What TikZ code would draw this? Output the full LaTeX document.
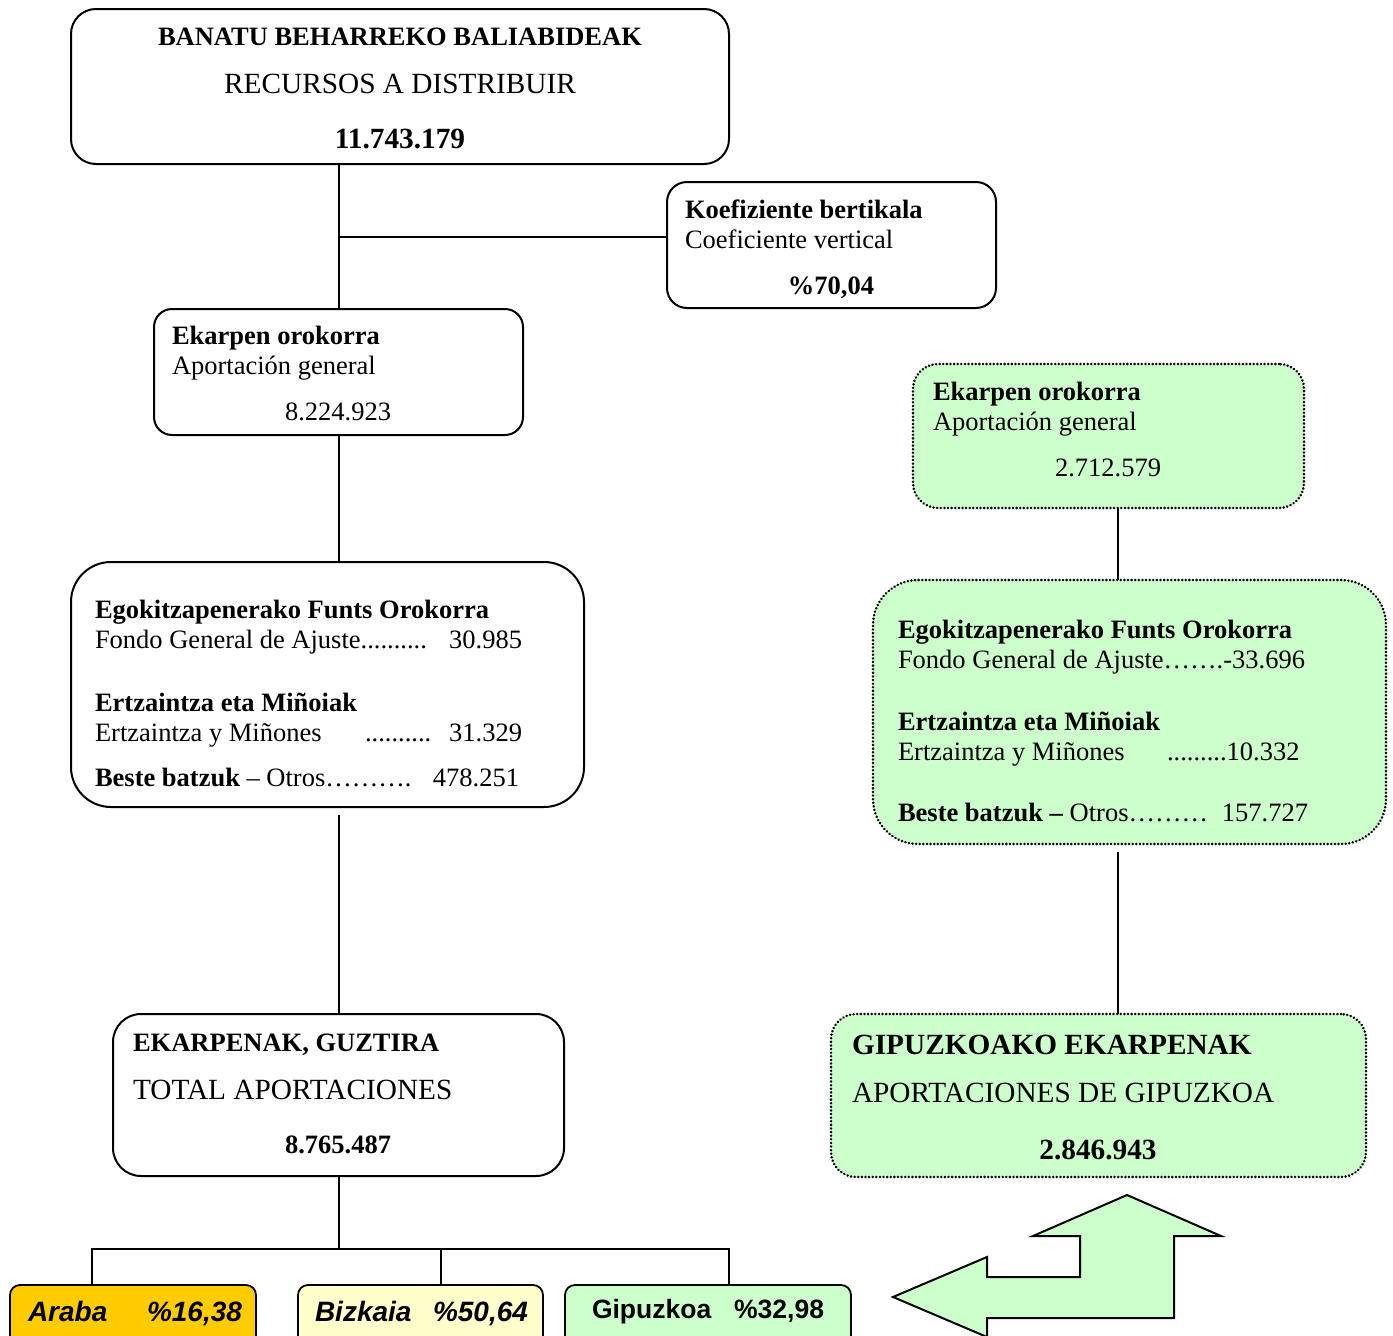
\documentclass[tikz,border=0pt]{standalone}
\usepackage{fontspec}
\setmainfont{Liberation Serif}
\newfontfamily\arialf{Liberation Sans}
\newcommand\fsm{\fontsize{26.5pt}{30pt}\selectfont}
\newcommand\flg{\fontsize{29.3pt}{33pt}\selectfont}
\newcommand\fbt{\fontsize{28pt}{32pt}\selectfont}
\definecolor{lgreen}{HTML}{CCFFCC}
\definecolor{gold}{HTML}{FFCC00}
\definecolor{lyellow}{HTML}{FFFFCC}
\begin{document}
\begin{tikzpicture}[x=1pt,y=-1pt,
  box/.style={draw=black,line width=2pt,inner sep=0pt,outer sep=0pt,rectangle},
  gbox/.style={box,fill=lgreen,line width=2.8pt,dash pattern=on 0.01pt off 3.6pt,line cap=round},
  lbox/.style={box,rounded corners=10pt,line width=1.8pt},
  conn/.style={line width=2pt},
  tx/.style={anchor=base west,inner sep=0pt,outer sep=0pt},
  tc/.style={anchor=base,inner sep=0pt,outer sep=0pt},
  tr/.style={anchor=base east,inner sep=0pt,outer sep=0pt}]
\useasboundingbox (0,0) rectangle (1393,1336);
\clip (0,0) rectangle (1393,1336);
% boxes
\node[box,rounded corners=25pt,minimum width=658pt,minimum height=155pt] (top) at (400,86.5) {};
\node[box,rounded corners=20pt,minimum width=329pt,minimum height=126pt] (koef) at (831.5,245) {};
\node[box,rounded corners=18pt,minimum width=369pt,minimum height=126pt] (ekl) at (338.5,372) {};
\node[box,rounded corners=40pt,minimum width=513pt,minimum height=245pt] (egok) at (327.5,684.5) {};
\node[box,rounded corners=28pt,minimum width=451pt,minimum height=162pt] (tot) at (338.5,1095) {};
\node[gbox,rounded corners=25pt,minimum width=391pt,minimum height=144pt] (ekr) at (1108.5,436) {};
\node[gbox,rounded corners=45pt,minimum width=513pt,minimum height=264pt] (egr) at (1129.5,712) {};
\node[gbox,rounded corners=25pt,minimum width=535pt,minimum height=163pt] (gip) at (1098.5,1095.5) {};
\node[lbox,fill=gold,minimum width=246pt,minimum height=70pt] (araba) at (133,1320) {};
\node[lbox,fill=lyellow,minimum width=245pt,minimum height=70pt] (bizk) at (420.5,1320) {};
\node[lbox,fill=lgreen,minimum width=286pt,minimum height=70pt] (gipb) at (708,1320) {};
% connectors
\coordinate (j1) at (338.5,237);
\draw[conn] (top.south -| ekl.north) -- (ekl.north);
\draw[conn] (j1) -- (j1 -| koef.west);
\draw[conn] (ekl.south) -- (ekl.south |- egok.north);
\draw[conn] ([yshift=-8pt]tot.north |- egok.south) -- (tot.north);
\coordinate (bus) at (338.5,1249);
\coordinate (b1) at (92,1249);
\coordinate (b2) at (441,1249);
\coordinate (b3) at (729,1249);
\draw[conn] (tot.south) -- (bus);
\draw[conn] (b1 |- araba.north) -- (b1) -- (b3) -- (b3 |- gipb.north);
\draw[conn] (b2) -- (b2 |- bizk.north);
\coordinate (rc) at (1118,0);
\draw[conn] (ekr.south -| rc) -- (egr.north -| rc);
\draw[conn] ([yshift=-8pt]egr.south -| rc) -- (gip.north -| rc);
% arrow shape
\draw[line width=2pt,fill=lgreen,line join=miter] (893,1297) -- (987,1257) -- (987,1277) -- (1080,1277) -- (1080,1236) -- (1033,1236) -- (1127,1195) -- (1221,1236) -- (1174,1236) -- (1174,1318) -- (987,1318) -- (987,1337) -- cycle;
% texts top
\node[tc] (t1) at (400,45) {\fsm\bfseries BANATU BEHARREKO BALIABIDEAK};
\node[tc] (t2) at (400,93) {\flg RECURSOS A DISTRIBUIR};
\node[tc] (t3) at (400,148) {\flg\bfseries 11.743.179};
% koef
\node[tx] (k1) at (685,218) {\fsm\bfseries Koefiziente bertikala};
\node[tx] (k2) at (685,248) {\fsm Coeficiente vertical};
\node[tc] (k3) at (831,294) {\fsm\bfseries \%70,04};
% ekl
\node[tx] (e1) at (172,344) {\fsm\bfseries Ekarpen orokorra};
\node[tx] (e2) at (172,374) {\fsm Aportación general};
\node[tc] (e3) at (338,420) {\fsm 8.224.923};
% egok left
\node[tx] (g1) at (95,618) {\fsm\bfseries Egokitzapenerako Funts Orokorra};
\node[tx] (g2) at (95,648) {\fsm Fondo General de Ajuste..........};
\node[tr] (g2n) at (522,648) {\fsm 30.985};
\node[tx] (g3) at (95,711) {\fsm\bfseries Ertzaintza eta Miñoiak};
\node[tx] (g4) at (95,741) {\fsm Ertzaintza y Miñones};
\node[tx] (g4d) at (365,741) {\fsm ..........};
\node[tr] (g4n) at (522,741) {\fsm 31.329};
\node[tx] (g5) at (95,786) {\fsm\textbf{Beste batzuk} – Otros……….};
\node[tr] (g5n) at (519,786) {\fsm 478.251};
% total
\node[tx] (s1) at (133,1051) {\fsm\bfseries EKARPENAK, GUZTIRA};
\node[tx] (s2) at (133,1099) {\flg TOTAL APORTACIONES};
\node[tc] (s3) at (338,1153) {\fsm\bfseries 8.765.487};
% right ekarpen
\node[tx] (r1) at (933,400) {\fsm\bfseries Ekarpen orokorra};
\node[tx] (r2) at (933,430) {\fsm Aportación general};
\node[tc] (r3) at (1108,476) {\fsm 2.712.579};
% right egok
\node[tx] (q1) at (898,638) {\fsm\bfseries Egokitzapenerako Funts Orokorra};
\node[tx] (q2) at (898,668) {\fsm Fondo General de Ajuste…….-33.696};
\node[tx] (q3) at (898,730) {\fsm\bfseries Ertzaintza eta Miñoiak};
\node[tx] (q4) at (898,760) {\fsm Ertzaintza y Miñones};
\node[tx] (q4d) at (1167,760) {\fsm .........10.332};
\node[tx] (q5) at (898,821) {\fsm\textbf{Beste batzuk –} Otros………};
\node[tr] (q5n) at (1308,821) {\fsm 157.727};
% gipuzkoa
\node[tx] (p1) at (852,1054) {\flg\bfseries GIPUZKOAKO EKARPENAK};
\node[tx] (p2) at (852,1102) {\flg APORTACIONES DE GIPUZKOA};
\node[tc] (p3) at (1098,1159) {\flg\bfseries 2.846.943};
% bottom labels
\node[tx] (a1) at (28,1321) {\fbt\arialf\bfseries\itshape Araba};
\node[tr] (a2) at (242,1321) {\fbt\arialf\bfseries\itshape \%16,38};
\node[tx] (b1t) at (315,1321) {\fbt\arialf\bfseries\itshape Bizkaia};
\node[tr] (b2t) at (528,1321) {\fbt\arialf\bfseries\itshape \%50,64};
\node[tx] (c1t) at (592,1318) {\fsm\arialf\bfseries Gipuzkoa};
\node[tr] (c2t) at (824,1318) {\fsm\arialf\bfseries \%32,98};
\end{tikzpicture}
\end{document}
